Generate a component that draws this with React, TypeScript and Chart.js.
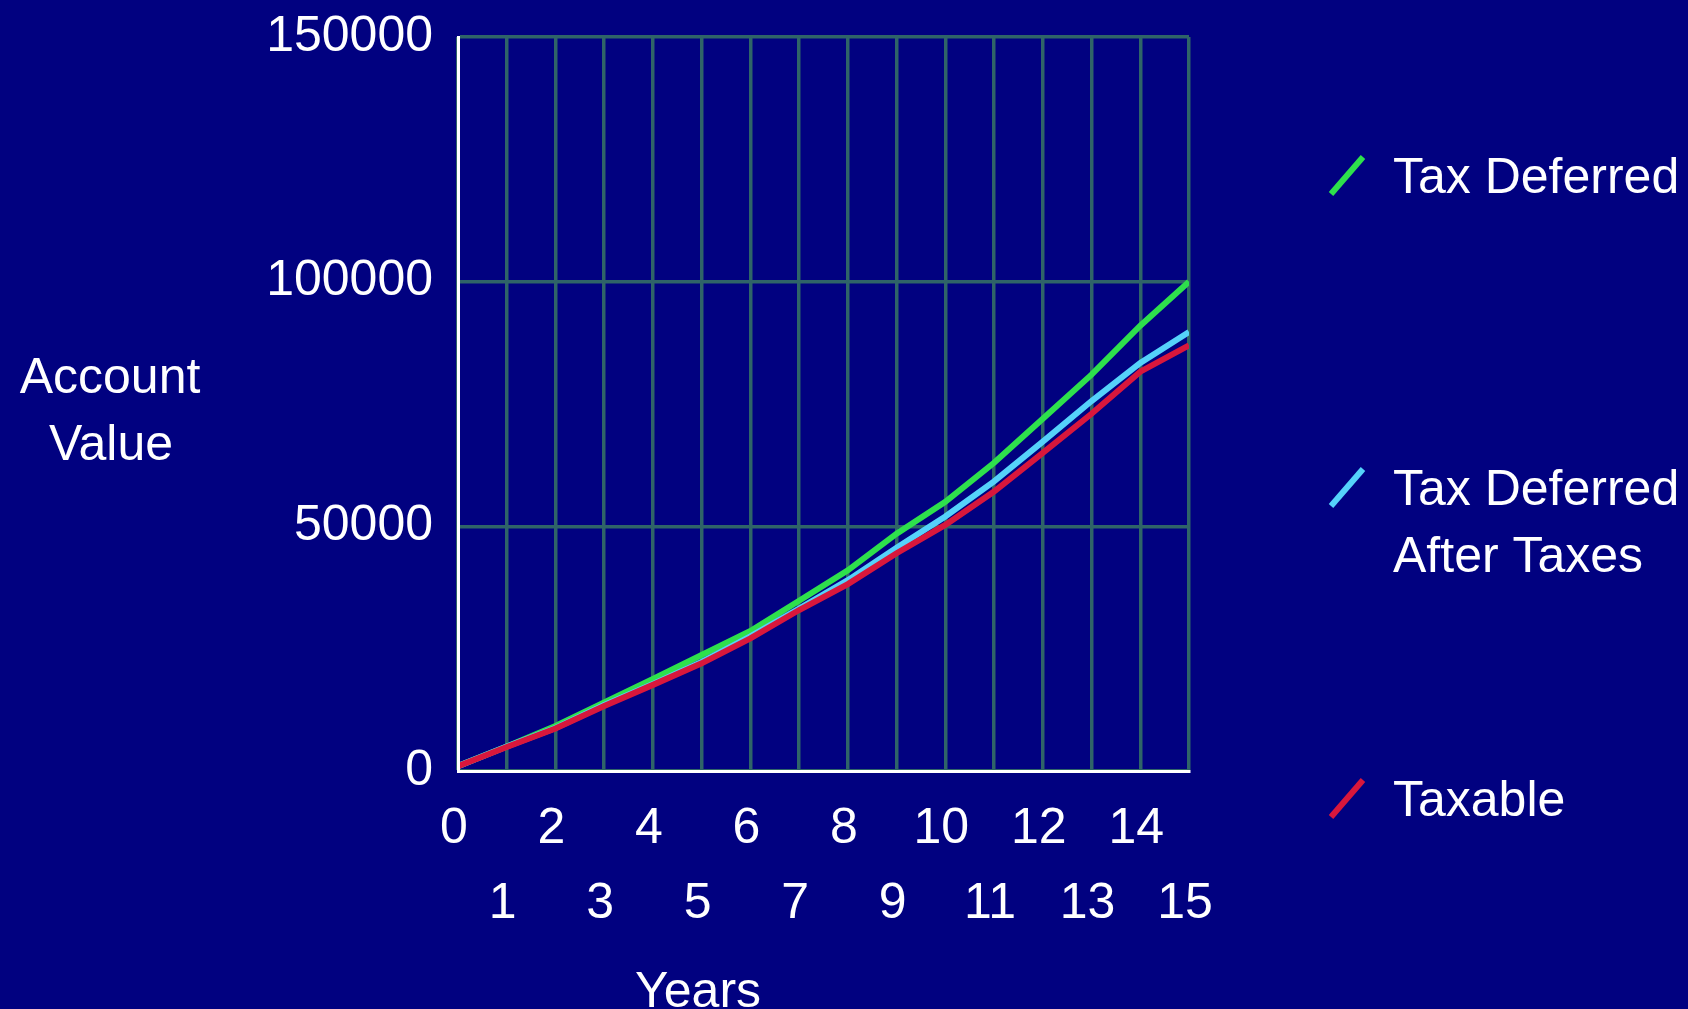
import React, { useEffect, useRef } from 'react';
import { Chart, registerables } from 'chart.js';

Chart.register(...registerables);

// ---- Data ----
const years = [0, 1, 2, 3, 4, 5, 6, 7, 8, 9, 10, 11, 12, 13, 14, 15];
const taxDeferred = [1000, 5000, 9200, 14000, 18800, 23700, 28600, 34800, 41000, 48500, 55000, 63000, 72000, 81000, 91000, 100000];
const taxDeferredAfterTaxes = [1000, 5000, 8800, 13500, 17800, 22300, 27500, 33200, 39000, 45600, 52000, 59200, 67300, 75600, 83400, 89700];
const taxable = [1000, 4900, 8700, 13300, 17600, 22000, 27100, 32900, 38200, 44500, 50300, 57100, 65000, 73000, 81600, 87000];

const seriesLabels = ['Tax Deferred', 'Tax Deferred After Taxes', 'Taxable'];
const legendLines = [['Tax Deferred'], ['Tax Deferred', 'After Taxes'], ['Taxable']];
const seriesColors = ['#2EE04C', '#55D2FA', '#D8173C'];
const yAxisTitle = ['Account', 'Value'];
const xAxisTitle = 'Years';
const yMin = 0;
const yMax = 150000;
const yStep = 50000;

const FONT = '"Liberation Sans", Arial, sans-serif';
const BG = '#010180';
const GRID = '#2f6468';

const textPlugin = {
  id: 'textPlugin',
  afterDraw(chart: any) {
    const ctx = chart.ctx;
    ctx.save();
    ctx.fillStyle = '#ffffff';
    ctx.font = `50px ${FONT}`;
    ctx.textBaseline = 'alphabetic';
    // y-axis title (horizontal, two lines)
    ctx.textAlign = 'center';
    ctx.fillText(yAxisTitle[0], 110, 393);
    ctx.fillText(yAxisTitle[1], 111, 460);
    // x-axis title
    ctx.textAlign = 'left';
    ctx.fillText(xAxisTitle, 635, 1007);
    // legend
    const baselines = [193, 505, 816];
    chart.data.datasets.forEach((ds: any, i: number) => {
      const base = baselines[i];
      ctx.strokeStyle = ds.borderColor;
      ctx.lineWidth = 6;
      ctx.lineCap = 'butt';
      ctx.beginPath();
      ctx.moveTo(1331, base + 1);
      ctx.lineTo(1363, base - 36);
      ctx.stroke();
      ctx.fillStyle = '#ffffff';
      legendLines[i].forEach((line, j) => {
        ctx.fillText(line, 1393, base + j * 67);
      });
    });
    ctx.restore();
  },
};

export default function App() {
  const canvasRef = useRef<HTMLCanvasElement | null>(null);

  useEffect(() => {
    const canvas = canvasRef.current;
    if (!canvas) return;
    const series = [taxDeferred, taxDeferredAfterTaxes, taxable];
    const chart = new Chart(canvas, {
      type: 'line',
      data: {
        datasets: series.map((vals, i) => ({
          label: seriesLabels[i],
          data: years.map((x, k) => ({ x, y: vals[k] })),
          borderColor: seriesColors[i],
          backgroundColor: seriesColors[i],
          borderWidth: 6,
          pointRadius: 0,
          tension: 0,
          fill: false,
          order: 2 - i,
        })),
      },
      options: {
        responsive: false,
        animation: false,
        devicePixelRatio: 1,
        layout: { padding: { top: 37, right: 499, bottom: 0, left: 0 } },
        plugins: {
          legend: { display: false },
          tooltip: { enabled: false },
        },
        scales: {
          x: {
            type: 'linear',
            min: years[0],
            max: years[years.length - 1],
            afterFit: (s: any) => {
              s.height = 238;
              s.paddingLeft = 0;
              s.paddingRight = 0;
            },
            ticks: {
              stepSize: 1,
              autoSkip: false,
              maxRotation: 0,
              minRotation: 0,
              color: '#ffffff',
              padding: 21,
              labelOffset: -4,
              font: { family: FONT, size: 50, lineHeight: 1.5 },
              callback: (value: any) => {
                const v = Number(value);
                return v % 2 === 0 ? [String(v)] : ['', String(v)];
              },
            },
            grid: { color: GRID, lineWidth: 3.5, drawTicks: false },
            border: { color: '#ffffff', width: 3, z: 1 },
          },
          y: {
            type: 'linear',
            min: yMin,
            max: yMax,
            afterFit: (s: any) => {
              s.width = 458;
              s.paddingTop = 0;
              s.paddingBottom = 0;
            },
            ticks: {
              stepSize: yStep,
              color: '#ffffff',
              padding: 25,
              font: { family: FONT, size: 50 },
              callback: (value: any) => String(value),
            },
            grid: { color: GRID, lineWidth: 3.5, drawTicks: false },
            border: { color: '#ffffff', width: 3, z: 1 },
          },
        },
      },
      plugins: [textPlugin],
    });
    return () => chart.destroy();
  }, []);

  return (
    <div style={{ position: 'fixed', left: 0, top: 0, width: 1688, height: 1009, background: BG, overflow: 'hidden' }}>
      <canvas ref={canvasRef} width={1688} height={1009} style={{ display: 'block' }} />
    </div>
  );
}
